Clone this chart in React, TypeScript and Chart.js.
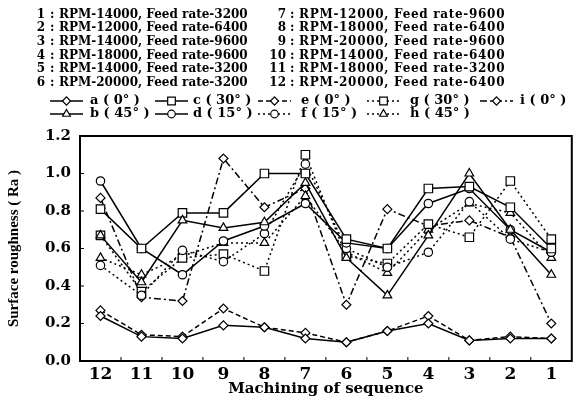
import React, { useEffect, useRef } from "react";
import { Chart, registerables } from "chart.js";
import { drawPoint } from "chart.js/helpers";

Chart.register(...registerables);

const categories = ["12", "11", "10", "9", "8", "7", "6", "5", "4", "3", "2", "1"];

const conditionNumbersLeft = ["1", "2", "3", "4", "5", "6"];
const conditionTextsLeft = [
  "RPM-14000, Feed rate-3200",
  "RPM-12000, Feed rate-6400",
  "RPM-14000, Feed rate-9600",
  "RPM-18000, Feed rate-9600",
  "RPM-14000, Feed rate-3200",
  "RPM-20000, Feed rate-3200",
];
const conditionNumbersRight = ["7", "8", "9", "10", "11", "12"];
const conditionTextsRight = [
  "RPM-12000, Feed rate-9600",
  "RPM-18000, Feed rate-6400",
  "RPM-20000, Feed rate-9600",
  "RPM-14000, Feed rate-6400",
  "RPM-18000, Feed rate-3200",
  "RPM-20000, Feed rate-6400",
];

const seriesLabels = [
  "a ( 0° )",
  "b ( 45° )",
  "c ( 30° )",
  "d ( 15° )",
  "e ( 0° )",
  "f ( 15° )",
  "g ( 30° )",
  "h ( 45° )",
  "i ( 0° )",
];

const seriesA = [0.24, 0.13, 0.12, 0.19, 0.18, 0.12, 0.1, 0.16, 0.2, 0.11, 0.12, 0.12];
const seriesB = [0.67, 0.42, 0.75, 0.71, 0.74, 0.95, 0.55, 0.35, 0.67, 1.0, 0.7, 0.46];
const seriesC = [0.81, 0.6, 0.79, 0.79, 1.0, 1.0, 0.65, 0.6, 0.92, 0.93, 0.82, 0.6];
const seriesD = [0.96, 0.6, 0.46, 0.64, 0.72, 0.84, 0.63, 0.6, 0.84, 0.92, 0.7, 0.58];
const seriesE = [0.27, 0.14, 0.13, 0.28, 0.18, 0.15, 0.1, 0.16, 0.24, 0.11, 0.13, 0.12];
const seriesF = [0.51, 0.35, 0.59, 0.53, 0.68, 1.05, 0.6, 0.5, 0.58, 0.85, 0.65, 0.58];
const seriesG = [0.67, 0.37, 0.55, 0.57, 0.48, 1.1, 0.56, 0.52, 0.73, 0.66, 0.96, 0.65];
const seriesH = [0.55, 0.46, 0.56, 0.63, 0.63, 0.88, 0.58, 0.47, 0.7, 0.84, 0.79, 0.55];
const seriesI = [0.87, 0.34, 0.32, 1.08, 0.82, 0.92, 0.3, 0.81, 0.72, 0.75, 0.66, 0.2];

const yTickValues = [0, 0.2, 0.4, 0.6, 0.8, 1.0, 1.2];

const allSeries = [seriesA, seriesB, seriesC, seriesD, seriesE, seriesF, seriesG, seriesH, seriesI];
const styles = [
  { dash: [], point: "rectRot", r: 4.5 },
  { dash: [], point: "triangle", r: 5 },
  { dash: [], point: "rect", r: 6 },
  { dash: [], point: "circle", r: 4.2 },
  { dash: [5, 3], point: "rectRot", r: 4.5 },
  { dash: [2, 3], point: "circle", r: 4.2 },
  { dash: [2, 3], point: "rect", r: 6 },
  { dash: [2, 3], point: "triangle", r: 5 },
  { dash: [7, 3, 2, 3], point: "rectRot", r: 4.5 },
];

const legendLineX = [50, 155, 258, 367, 480];
const legendTextX = [90, 193, 301, 410, 520];
const legendRows = [101, 114];

const framePlugin = {
  id: "frame",
  beforeDatasetsDraw(chart: any) {
    const { ctx, chartArea: a } = chart;
    ctx.save();
    ctx.strokeStyle = "#000";
    ctx.lineWidth = 2;
    ctx.setLineDash([]);
    ctx.strokeRect(a.left, a.top, a.right - a.left, a.bottom - a.top);
    ctx.lineWidth = 1;
    const ys = chart.scales.y;
    ys.ticks.forEach((t: any) => {
      const y = ys.getPixelForValue(t.value);
      ctx.beginPath();
      ctx.moveTo(a.left, y);
      ctx.lineTo(a.left + 4, y);
      ctx.stroke();
    });
    const xs = chart.scales.x;
    for (let i = 1; i < categories.length; i++) {
      const x = (xs.getPixelForValue(i - 1) + xs.getPixelForValue(i)) / 2;
      ctx.beginPath();
      ctx.moveTo(x, a.bottom);
      ctx.lineTo(x, a.bottom - 4);
      ctx.stroke();
    }
    ctx.restore();
  },
};

const legendPlugin = {
  id: "lineLegend",
  afterDraw(chart: any) {
    const { ctx } = chart;
    ctx.save();
    chart.data.datasets.forEach((ds: any, i: number) => {
      const col = Math.floor(i / 2);
      const x0 = legendLineX[col];
      const y = legendRows[i % 2];
      ctx.strokeStyle = "#000";
      ctx.lineWidth = 1.5;
      ctx.setLineDash(ds.borderDash || []);
      ctx.beginPath();
      ctx.moveTo(x0, y);
      ctx.lineTo(x0 + 33, y);
      ctx.stroke();
      ctx.setLineDash([]);
      ctx.fillStyle = "#fff";
      ctx.lineWidth = 1.2;
      drawPoint(ctx, { pointStyle: ds.pointStyle, radius: ds.pointRadius * 0.9, rotation: 0, borderWidth: 1.2 }, x0 + 16.5, y);
      ctx.fillStyle = "#000";
      ctx.font = "bold 13px 'DejaVu Serif'";
      ctx.textBaseline = "middle";
      ctx.textAlign = "left";
      ctx.fillText(ds.label, legendTextX[col], y);
    });
    ctx.restore();
  },
};

export default function App() {
  const ref = useRef<HTMLCanvasElement | null>(null);

  useEffect(() => {
    if (!ref.current) return;
    const chart = new Chart(ref.current, {
      type: "line",
      data: {
        labels: categories,
        datasets: allSeries.map((data, i) => ({
          label: seriesLabels[i],
          data,
          borderColor: "#000",
          borderWidth: 1.5,
          borderDash: styles[i].dash,
          pointStyle: styles[i].point as any,
          pointRadius: styles[i].r,
          pointBackgroundColor: "#fff",
          pointBorderColor: "#000",
          pointBorderWidth: 1.2,
          tension: 0,
          fill: false,
        })),
      },
      options: {
        responsive: false,
        animation: false,
        devicePixelRatio: 1,
        layout: { padding: { top: 136, right: 2, left: 0, bottom: 0 } },
        plugins: { legend: { display: false }, tooltip: { enabled: false } },
        scales: {
          x: {
            offset: true,
            grid: { display: false, drawTicks: false },
            border: { display: false },
            ticks: {
              color: "#000",
              padding: 3,
              font: { family: "'DejaVu Serif'", weight: "bold", size: 17 },
              maxRotation: 0,
              autoSkip: false,
            },
            title: {
              display: true,
              text: "Machining of sequence",
              color: "#000",
              font: { family: "'DejaVu Serif'", weight: "bold", size: 15 },
              padding: { top: 0, bottom: 3 },
            },
            afterFit: (s: any) => {
              s.height = 40;
            },
          },
          y: {
            min: 0,
            max: 1.2,
            grid: { display: false, drawTicks: false },
            border: { display: false },
            afterBuildTicks: (s: any) => {
              s.ticks = yTickValues.map((v) => ({ value: v }));
            },
            ticks: {
              color: "#000",
              padding: 9,
              font: { family: "'DejaVu Serif'", weight: "bold", size: 15 },
              callback: (v: any) => Number(v).toFixed(1),
            },
            title: {
              display: true,
              text: "Surface roughness ( Ra )",
              color: "#000",
              font: { family: "'Liberation Serif'", weight: "bold", size: 15 },
              padding: { top: 5, bottom: 0 },
            },
            afterFit: (s: any) => {
              s.width = 80;
            },
          },
        },
      },
      plugins: [framePlugin, legendPlugin],
    });
    return () => chart.destroy();
  }, []);

  const textStyle: React.CSSProperties = {
    position: "absolute",
    fontFamily: "'DejaVu Serif'",
    fontWeight: "bold",
    fontSize: "12px",
    lineHeight: "13.7px",
    whiteSpace: "nowrap",
    color: "#000",
  };

  const renderCol = (
    nums: string[],
    texts: string[],
    numRight: number,
    colonX: number,
    textX: number,
    spacing: number
  ) =>
    nums.map((n, i) => (
      <React.Fragment key={n}>
        <div style={{ ...textStyle, top: 7.5 + i * 13.7, left: numRight - 30, width: 30, textAlign: "right" }}>{n}</div>
        <div style={{ ...textStyle, top: 7.5 + i * 13.7, left: colonX }}>:</div>
        <div style={{ ...textStyle, top: 7.5 + i * 13.7, left: textX, letterSpacing: spacing }}>{texts[i]}</div>
      </React.Fragment>
    ));

  return (
    <div style={{ position: "absolute", left: 0, top: 0, width: 579, height: 401, background: "#fff" }}>
      <canvas ref={ref} width={579} height={401} style={{ position: "absolute", left: 0, top: 0 }} />
      {renderCol(conditionNumbersLeft, conditionTextsLeft, 45, 50, 59, 0)}
      {renderCol(conditionNumbersRight, conditionTextsRight, 286, 290, 299, 0.7)}
    </div>
  );
}
